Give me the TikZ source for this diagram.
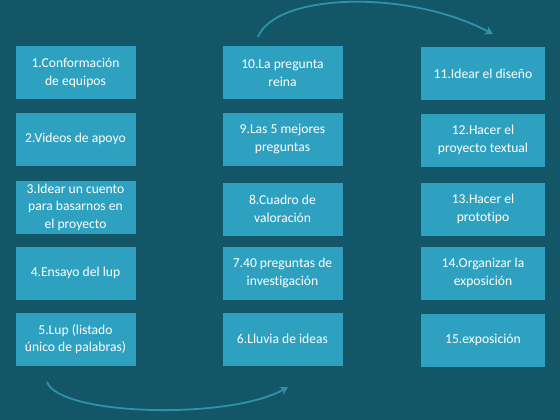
\documentclass[tikz,border=0pt]{standalone}
\usepackage{fontspec}
\setmainfont[Ligatures={NoCommon,NoDiscretionary}]{Carlito}
\usetikzlibrary{arrows.meta}
\definecolor{fondo}{RGB}{19,86,103}
\definecolor{caja}{RGB}{47,161,192}
\definecolor{flecha}{RGB}{46,146,173}

\begin{document}
\begin{tikzpicture}[x=1pt,y=-1pt,
    paso/.style={fill=caja, text=white, align=center, minimum width=120pt, minimum height=53pt,
                 inner sep=2pt, font=\fontsize{13.6}{17.5}\selectfont},
    curva/.style={draw=flecha, line width=1.8pt, -{Stealth[length=8pt,width=9pt]}}]
    \fill[fondo] (0,0) rectangle (560,420);
    \useasboundingbox (0,0) rectangle (560,420);
    % columna 1
    \node[paso] at (75.5,73) (p1) {1.Conformación\\de equipos};
    \node[paso] at (75.5,139) (p2) {2.Videos de apoyo};
    \node[paso] at (75.5,207) (p3) {3.Idear un cuento\\para basarnos en\\el proyecto};
    \node[paso] at (75.5,273) (p4) {4.Ensayo del lup};
    \node[paso] at (75.5,339) (p5) {5.Lup (listado\\único de palabras)};
    % columna 2
    \node[paso] at (282.5,339) (p6) {6.Lluvia de ideas};
    \node[paso] at (282.5,273) (p7) {7.40 preguntas de\\investigación};
    \node[paso] at (282.5,209) (p8) {8.Cuadro de\\valoración};
    \node[paso] at (282.5,139) (p9) {9.Las 5 mejores\\preguntas};
    \node[paso] at (282.5,73) (p10) {10.La pregunta\\reina};
    % columna 3
    \node[paso, minimum width=124pt] at (483,74) (p11) {11.Idear el diseño};
    \node[paso, minimum width=124pt] at (483,140) (p12) {12.Hacer el\\proyecto textual};
    \node[paso, minimum width=124pt] at (483,209) (p13) {13.Hacer el\\prototipo};
    \node[paso, minimum width=124pt] at (483,273) (p14) {14.Organizar la\\exposición};
    \node[paso, minimum width=124pt] at (483,340) (p15) {15.exposición};
    % flechas curvas
    \coordinate (a1) at (258,37);
    \coordinate (a2) at (493,34);
    \coordinate (b1) at (47,382);
    \coordinate (b2) at (288,387);
    \draw[curva] (a1) .. controls (275,-6) and (405,-12) .. (a2);
    \draw[curva] (b1) .. controls (60,416) and (230,420) .. (b2);
\end{tikzpicture}
\end{document}
